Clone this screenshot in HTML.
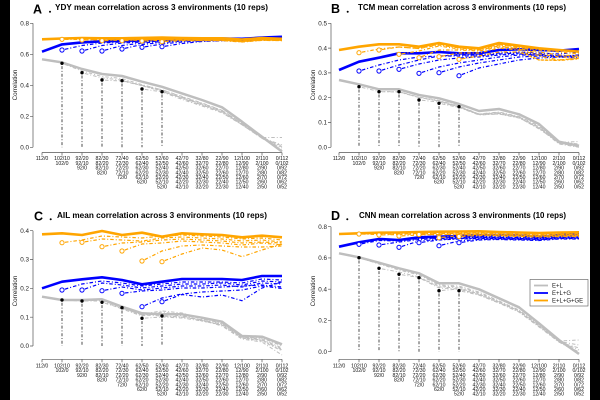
<!DOCTYPE html>
<html><head><meta charset="utf-8"><style>
html,body{margin:0;padding:0;background:#fff;}
svg{display:block;}
.gm{stroke:#bebebe;stroke-width:2.5;fill:none;stroke-linejoin:round}
.gd{stroke:#bebebe;stroke-width:1;fill:none;stroke-dasharray:1 2 3.5 2}
.bm{stroke:#0000ff;stroke-width:2.6;fill:none;stroke-linejoin:round}
.bd{stroke:#0000ff;stroke-width:1.2;fill:none;stroke-dasharray:1 2 3.5 2}
.om{stroke:#ffa500;stroke-width:2.6;fill:none;stroke-linejoin:round}
.od{stroke:#ffa500;stroke-width:1.2;fill:none;stroke-dasharray:1 2 3.5 2}
.vl{stroke:#222;stroke-width:0.8;fill:none;stroke-dasharray:1 1.8 3 1.8}
.bc{fill:#fff;stroke:#0000ff;stroke-width:1}
.oc{fill:#fff;stroke:#ffa500;stroke-width:1}
.ax{stroke:#555;stroke-width:0.7;fill:none}
.yl{font-family:"Liberation Sans",sans-serif;font-size:6.3px;fill:#222;text-anchor:end}
.xl{font-family:"Liberation Sans",sans-serif;font-size:10.4px;fill:#111;text-anchor:middle}
.cl{font-family:"Liberation Sans",sans-serif;font-size:6.3px;fill:#222;text-anchor:middle}
.tt{font-family:"Liberation Sans",sans-serif;font-size:8.2px;font-weight:bold;fill:#000}
.pl{font-family:"Liberation Sans",sans-serif;font-size:12.5px;font-weight:bold;fill:#000}
.lg{font-family:"Liberation Sans",sans-serif;font-size:6px;fill:#222}
</style></head><body>
<svg width="600" height="400" viewBox="0 0 600 400" xmlns="http://www.w3.org/2000/svg">
<rect x="0" y="0" width="600" height="400" fill="#fff"/>

<!-- ================= PANEL A ================= -->
<text class="pl" x="33" y="13.3">A</text><circle cx="50" cy="11.7" r="1" fill="#000"/>
<text class="tt" x="55" y="10.2" textLength="213" lengthAdjust="spacingAndGlyphs">YDY mean correlation across 3 environments (10 reps)</text>
<text class="cl" transform="translate(17.2,85) rotate(-90)">Correlation</text>
<path class="ax" d="M33,23.3V147.3M30,147.3H33M30,116.3H33M30,85.3H33M30,54.3H33M30,23.3H33"/>
<text class="yl" x="29" y="149.5">0.0</text><text class="yl" x="29" y="118.5">0.2</text><text class="yl" x="29" y="87.5">0.4</text><text class="yl" x="29" y="56.5">0.6</text><text class="yl" x="29" y="25.5">0.8</text>
<path class="ax" d="M42,152.5H282M42,152.5v3M62,152.5v3M82,152.5v3M102,152.5v3M122,152.5v3M142,152.5v3M162,152.5v3M182,152.5v3M202,152.5v3M222,152.5v3M242,152.5v3M262,152.5v3M282,152.5v3"/>
<g transform="translate(42,160.2) scale(.5)"><text class="xl"><tspan x="0" y="0">112/0</tspan></text></g>
<g transform="translate(62,160.2) scale(.5)"><text class="xl"><tspan x="0" y="0">102/10</tspan><tspan x="0" y="9.4">102/0</tspan></text></g>
<g transform="translate(82,160.2) scale(.5)"><text class="xl"><tspan x="0" y="0">92/20</tspan><tspan x="0" y="9.4">92/10</tspan><tspan x="0" y="18.8">92/0</tspan></text></g>
<g transform="translate(102,160.2) scale(.5)"><text class="xl"><tspan x="0" y="0">82/30</tspan><tspan x="0" y="9.4">82/20</tspan><tspan x="0" y="18.8">82/10</tspan><tspan x="0" y="28.2">82/0</tspan></text></g>
<g transform="translate(122,160.2) scale(.5)"><text class="xl"><tspan x="0" y="0">72/40</tspan><tspan x="0" y="9.4">72/30</tspan><tspan x="0" y="18.8">72/20</tspan><tspan x="0" y="28.2">72/10</tspan><tspan x="0" y="37.6">72/0</tspan></text></g>
<g transform="translate(142,160.2) scale(.5)"><text class="xl"><tspan x="0" y="0">62/50</tspan><tspan x="0" y="9.4">62/40</tspan><tspan x="0" y="18.8">62/30</tspan><tspan x="0" y="28.2">62/20</tspan><tspan x="0" y="37.6">62/10</tspan><tspan x="0" y="47">62/0</tspan></text></g>
<g transform="translate(162,160.2) scale(.5)"><text class="xl"><tspan x="0" y="0">52/60</tspan><tspan x="0" y="9.4">52/50</tspan><tspan x="0" y="18.8">52/40</tspan><tspan x="0" y="28.2">52/30</tspan><tspan x="0" y="37.6">52/20</tspan><tspan x="0" y="47">52/10</tspan><tspan x="0" y="56.4">52/0</tspan></text></g>
<g transform="translate(182,160.2) scale(.5)"><text class="xl"><tspan x="0" y="0">42/70</tspan><tspan x="0" y="9.4">42/60</tspan><tspan x="0" y="18.8">42/50</tspan><tspan x="0" y="28.2">42/40</tspan><tspan x="0" y="37.6">42/30</tspan><tspan x="0" y="47">42/20</tspan><tspan x="0" y="56.4">42/10</tspan></text></g>
<g transform="translate(202,160.2) scale(.5)"><text class="xl"><tspan x="0" y="0">32/80</tspan><tspan x="0" y="9.4">32/70</tspan><tspan x="0" y="18.8">32/60</tspan><tspan x="0" y="28.2">32/50</tspan><tspan x="0" y="37.6">32/40</tspan><tspan x="0" y="47">32/30</tspan><tspan x="0" y="56.4">32/20</tspan></text></g>
<g transform="translate(222,160.2) scale(.5)"><text class="xl"><tspan x="0" y="0">22/90</tspan><tspan x="0" y="9.4">22/80</tspan><tspan x="0" y="18.8">22/70</tspan><tspan x="0" y="28.2">22/60</tspan><tspan x="0" y="37.6">22/50</tspan><tspan x="0" y="47">22/40</tspan><tspan x="0" y="56.4">22/30</tspan></text></g>
<g transform="translate(242,160.2) scale(.5)"><text class="xl"><tspan x="0" y="0">12/100</tspan><tspan x="0" y="9.4">12/90</tspan><tspan x="0" y="18.8">12/80</tspan><tspan x="0" y="28.2">12/70</tspan><tspan x="0" y="37.6">12/60</tspan><tspan x="0" y="47">12/50</tspan><tspan x="0" y="56.4">12/40</tspan></text></g>
<g transform="translate(262,160.2) scale(.5)"><text class="xl"><tspan x="0" y="0">2/110</tspan><tspan x="0" y="9.4">2/100</tspan><tspan x="0" y="18.8">2/90</tspan><tspan x="0" y="28.2">2/80</tspan><tspan x="0" y="37.6">2/70</tspan><tspan x="0" y="47">2/60</tspan><tspan x="0" y="56.4">2/50</tspan></text></g>
<g transform="translate(282,160.2) scale(.5)"><text class="xl"><tspan x="0" y="0">0/112</tspan><tspan x="0" y="9.4">0/102</tspan><tspan x="0" y="18.8">0/92</tspan><tspan x="0" y="28.2">0/82</tspan><tspan x="0" y="37.6">0/72</tspan><tspan x="0" y="47">0/62</tspan><tspan x="0" y="56.4">0/52</tspan></text></g>

<path class="vl" d="M62,63.3V147.3M82,72.7V147.3M102,80V147.3M122,80.7V147.3M142,89V147.3M162,91.7V147.3"/>
<polyline class="gd" points="62,63.3 82,71 102,76.5 122,78.5 142,84.7 162,89.8 182,96.4 202,103 222,110.3 242,123.7 262,137.8 282,146"/>
<polyline class="gd" points="82,72.7 102,78 122,80 142,85.7 162,91.3 182,97.9 202,104 222,111.3 242,124.7 262,138.3 282,148"/>
<polyline class="gd" points="102,80 122,81 142,85.7 162,90.8 182,98.4 202,105 222,112.3 242,124.7 262,137.5 282,137.5"/>
<polyline class="gd" points="122,80.7 142,85.2 162,89.8 182,96.9 202,103.5 222,110.3 242,123.7 262,137.8 282,145"/>
<polyline class="gd" points="142,89 162,91.8 182,99.4 202,106 222,112.8 242,124.7 262,138.3 282,150"/>
<polyline class="gd" points="162,91.7 182,97.4 202,105 222,111.3 242,124.2 262,137.3 282,147"/>
<polyline class="gm" points="42,59.3 62,62.4 82,69 102,74 122,76 142,81.7 162,86.8 182,93.4 202,100 222,107.3 242,121.7 262,136.8 282,151.6"/>
<g fill="#000"><circle cx="62" cy="63.3" r="1.7"/><circle cx="82" cy="72.7" r="1.7"/><circle cx="102" cy="80" r="1.7"/><circle cx="122" cy="80.7" r="1.7"/><circle cx="142" cy="89" r="1.7"/><circle cx="162" cy="91.7" r="1.7"/></g>

<polyline class="bd" points="62,50 82,45.5 102,43 122,42 142,41.3 162,40.5 182,39.8 202,39.5 222,39.3 242,39.8 262,38.8 282,37.8"/>
<polyline class="bd" points="82,51 102,45.5 122,43 142,42 162,41 182,40.3 202,40 222,39.8 242,40.3 262,39.3 282,38.3"/>
<polyline class="bd" points="102,51 122,45.5 142,43 162,41.5 182,40.5 202,40.3 222,40 242,40.5 262,39.5 282,38.5"/>
<polyline class="bd" points="122,49 142,44.5 162,42.5 182,41 202,40.5 222,40.2 242,40.8 262,39.8 282,38.8"/>
<polyline class="bd" points="142,47.3 162,44 182,42 202,41 222,40.5 242,41 262,40 282,39"/>
<polyline class="bd" points="162,46.7 182,43.5 202,41.5 222,40.8 242,41.2 262,40.2 282,39.3"/>
<polyline class="bm" points="42,51.7 62,44.4 82,42.4 102,41.3 122,40.8 142,40.35 162,39.6 182,38.8 202,38.6 222,38.5 242,38.8 262,37.6 282,36.8"/>
<polyline class="od" points="62,39.3 82,39.5 102,39.6 122,39.5 142,39.2 162,39 182,39.4 202,39.6 222,39.6 242,41 262,39.3 282,39.8"/>
<polyline class="od" points="82,40 102,39.8 122,39.8 142,39.5 162,39.3 182,39.6 202,39.8 222,39.8 242,41.3 262,39.6 282,40"/>
<polyline class="od" points="102,40.7 122,40 142,39.7 162,39.5 182,39.9 202,40 222,40 242,41.5 262,39.8 282,40.2"/>
<polyline class="od" points="122,40.7 142,40 162,39.7 182,40 202,40.2 222,40.2 242,41.6 262,40 282,40.3"/>
<polyline class="od" points="142,41 162,40.2 182,40.2 202,40.4 222,40.4 242,41.8 262,40.2 282,40.5"/>
<polyline class="od" points="162,41.7 182,40.6 202,40.6 222,40.6 242,42 262,40.4 282,40.6"/>
<polyline class="om" points="42,39.3 62,38.5 82,38 102,38.3 122,38.3 142,37.9 162,37.6 182,38 202,38.3 222,38.3 242,39.6 262,38 282,38.8"/>
<circle class="bc" cx="62" cy="50" r="2.1"/><circle class="bc" cx="82" cy="51" r="2.1"/><circle class="bc" cx="102" cy="51" r="2.1"/><circle class="bc" cx="122" cy="49" r="2.1"/><circle class="bc" cx="142" cy="47.3" r="2.1"/><circle class="bc" cx="162" cy="46.7" r="2.1"/>
<circle class="oc" cx="62" cy="39.3" r="2.1"/><circle class="oc" cx="82" cy="40" r="2.1"/><circle class="oc" cx="102" cy="40.7" r="2.1"/><circle class="oc" cx="122" cy="40.7" r="2.1"/><circle class="oc" cx="142" cy="41" r="2.1"/><circle class="oc" cx="162" cy="41.7" r="2.1"/>

<!-- ================= PANEL B ================= -->
<text class="pl" x="331" y="13">B</text><circle cx="347.7" cy="11.7" r="1" fill="#000"/>
<text class="tt" x="358" y="10.2" textLength="208" lengthAdjust="spacingAndGlyphs">TCM mean correlation across 3 environments (10 reps)</text>
<text class="cl" transform="translate(315,85) rotate(-90)">Correlation</text>
<path class="ax" d="M331,23.3V147.3M328,147.3H331M328,122.5H331M328,97.7H331M328,72.9H331M328,48.1H331M328,23.3H331"/>
<text class="yl" x="327" y="149.5">0.0</text><text class="yl" x="327" y="124.7">0.1</text><text class="yl" x="327" y="99.9">0.2</text><text class="yl" x="327" y="75.1">0.3</text><text class="yl" x="327" y="50.3">0.4</text><text class="yl" x="327" y="25.5">0.5</text>
<path class="ax" d="M339,152.5H579M339,152.5v3M359,152.5v3M379,152.5v3M399,152.5v3M419,152.5v3M439,152.5v3M459,152.5v3M479,152.5v3M499,152.5v3M519,152.5v3M539,152.5v3M559,152.5v3M579,152.5v3"/>
<g transform="translate(339,160.2) scale(.5)"><text class="xl"><tspan x="0" y="0">112/0</tspan></text></g>
<g transform="translate(359,160.2) scale(.5)"><text class="xl"><tspan x="0" y="0">102/10</tspan><tspan x="0" y="9.4">102/0</tspan></text></g>
<g transform="translate(379,160.2) scale(.5)"><text class="xl"><tspan x="0" y="0">92/20</tspan><tspan x="0" y="9.4">92/10</tspan><tspan x="0" y="18.8">92/0</tspan></text></g>
<g transform="translate(399,160.2) scale(.5)"><text class="xl"><tspan x="0" y="0">82/30</tspan><tspan x="0" y="9.4">82/20</tspan><tspan x="0" y="18.8">82/10</tspan><tspan x="0" y="28.2">82/0</tspan></text></g>
<g transform="translate(419,160.2) scale(.5)"><text class="xl"><tspan x="0" y="0">72/40</tspan><tspan x="0" y="9.4">72/30</tspan><tspan x="0" y="18.8">72/20</tspan><tspan x="0" y="28.2">72/10</tspan><tspan x="0" y="37.6">72/0</tspan></text></g>
<g transform="translate(439,160.2) scale(.5)"><text class="xl"><tspan x="0" y="0">62/50</tspan><tspan x="0" y="9.4">62/40</tspan><tspan x="0" y="18.8">62/30</tspan><tspan x="0" y="28.2">62/20</tspan><tspan x="0" y="37.6">62/10</tspan><tspan x="0" y="47">62/0</tspan></text></g>
<g transform="translate(459,160.2) scale(.5)"><text class="xl"><tspan x="0" y="0">52/60</tspan><tspan x="0" y="9.4">52/50</tspan><tspan x="0" y="18.8">52/40</tspan><tspan x="0" y="28.2">52/30</tspan><tspan x="0" y="37.6">52/20</tspan><tspan x="0" y="47">52/10</tspan><tspan x="0" y="56.4">52/0</tspan></text></g>
<g transform="translate(479,160.2) scale(.5)"><text class="xl"><tspan x="0" y="0">42/70</tspan><tspan x="0" y="9.4">42/60</tspan><tspan x="0" y="18.8">42/50</tspan><tspan x="0" y="28.2">42/40</tspan><tspan x="0" y="37.6">42/30</tspan><tspan x="0" y="47">42/20</tspan><tspan x="0" y="56.4">42/10</tspan></text></g>
<g transform="translate(499,160.2) scale(.5)"><text class="xl"><tspan x="0" y="0">32/80</tspan><tspan x="0" y="9.4">32/70</tspan><tspan x="0" y="18.8">32/60</tspan><tspan x="0" y="28.2">32/50</tspan><tspan x="0" y="37.6">32/40</tspan><tspan x="0" y="47">32/30</tspan><tspan x="0" y="56.4">32/20</tspan></text></g>
<g transform="translate(519,160.2) scale(.5)"><text class="xl"><tspan x="0" y="0">22/90</tspan><tspan x="0" y="9.4">22/80</tspan><tspan x="0" y="18.8">22/70</tspan><tspan x="0" y="28.2">22/60</tspan><tspan x="0" y="37.6">22/50</tspan><tspan x="0" y="47">22/40</tspan><tspan x="0" y="56.4">22/30</tspan></text></g>
<g transform="translate(539,160.2) scale(.5)"><text class="xl"><tspan x="0" y="0">12/100</tspan><tspan x="0" y="9.4">12/90</tspan><tspan x="0" y="18.8">12/80</tspan><tspan x="0" y="28.2">12/70</tspan><tspan x="0" y="37.6">12/60</tspan><tspan x="0" y="47">12/50</tspan><tspan x="0" y="56.4">12/40</tspan></text></g>
<g transform="translate(559,160.2) scale(.5)"><text class="xl"><tspan x="0" y="0">2/110</tspan><tspan x="0" y="9.4">2/100</tspan><tspan x="0" y="18.8">2/90</tspan><tspan x="0" y="28.2">2/80</tspan><tspan x="0" y="37.6">2/70</tspan><tspan x="0" y="47">2/60</tspan><tspan x="0" y="56.4">2/50</tspan></text></g>
<g transform="translate(579,160.2) scale(.5)"><text class="xl"><tspan x="0" y="0">0/112</tspan><tspan x="0" y="9.4">0/102</tspan><tspan x="0" y="18.8">0/92</tspan><tspan x="0" y="28.2">0/82</tspan><tspan x="0" y="37.6">0/72</tspan><tspan x="0" y="47">0/62</tspan><tspan x="0" y="56.4">0/52</tspan></text></g>

<path class="vl" d="M359,86.7V147.3M379,91.7V147.3M399,91.7V147.3M419,100V147.3M439,103.3V147.3M459,106.7V147.3"/>
<polyline class="gd" points="359,86.7 379,91.5 399,91.8 419,97 439,100.5 459,106 479,114 499,112.5 519,117 539,127 559,142.5 579,141.5"/>
<polyline class="gd" points="379,91.7 399,92 419,97.5 439,101 459,107 479,114.5 499,113 519,117.5 539,128 559,143 579,147"/>
<polyline class="gd" points="399,91.7 419,97.5 439,101 459,106.5 479,114 499,112 519,116.5 539,126 559,143.5 579,146"/>
<polyline class="gd" points="419,100 439,102 459,107 479,114.5 499,113.5 519,117.5 539,129 559,142 579,144"/>
<polyline class="gd" points="439,103.3 459,107.5 479,115 499,114 519,118 539,128 559,144 579,147.3"/>
<polyline class="gd" points="459,106.7 479,114.5 499,114 519,117 539,127.5 559,143 579,146"/>
<polyline class="gm" points="339,80 359,84.3 379,89.3 399,89.3 419,95 439,98.3 459,104 479,111 499,109 519,114.3 539,124 559,141.7 579,145.7"/>
<g fill="#000"><circle cx="359" cy="86.7" r="1.7"/><circle cx="379" cy="91.7" r="1.7"/><circle cx="399" cy="91.7" r="1.7"/><circle cx="419" cy="100" r="1.7"/><circle cx="439" cy="103.3" r="1.7"/><circle cx="459" cy="106.7" r="1.7"/></g>

<polyline class="bd" points="359,71 379,65 399,60 419,57 439,56 459,55 479,55 499,53 519,52 539,53 559,54 579,52"/>
<polyline class="bd" points="379,71 399,65 419,60 439,56 459,56 479,56 499,54 519,53 539,54 559,56 579,55"/>
<polyline class="bd" points="399,69.3 419,64 439,60 459,58 479,57 499,55 519,54 539,55 559,57 579,58"/>
<polyline class="bd" points="419,73.3 439,67 459,63 479,60 499,57 519,55 539,55 559,56 579,56"/>
<polyline class="bd" points="439,72.7 459,67 479,63 499,60 519,57 539,56 559,57 579,55"/>
<polyline class="bd" points="459,75.7 479,68 499,64 519,60 539,58 559,57 579,56"/>
<polyline class="bm" points="339,70 359,61.7 379,57.7 399,53.3 419,53.3 439,52 459,53.3 479,53.3 499,50 519,49.3 539,50 559,50.7 579,49"/>
<polyline class="od" points="359,52.7 379,49 399,47 419,48.5 439,45 459,48 479,49.5 499,45 519,47 539,50 559,52 579,54"/>
<polyline class="od" points="379,50 399,47 419,48.5 439,44 459,47.5 479,49 499,44.5 519,47 539,52 559,55 579,56"/>
<polyline class="od" points="399,54.3 419,51 439,46 459,49 479,50 499,46 519,49 539,56 559,60 579,58"/>
<polyline class="od" points="419,57.7 439,50 459,50 479,51 499,47 519,48 539,54 559,57 579,57"/>
<polyline class="od" points="439,56.7 459,53 479,53 499,48 519,50 539,60 559,60 579,58.5"/>
<polyline class="od" points="459,59.3 479,56 499,52 519,52 539,60 559,60.5 579,59"/>
<polyline class="om" points="339,50 359,46.7 379,44.3 399,44.3 419,46.7 439,43 459,46.7 479,48.3 499,43 519,45.7 539,48.3 559,50 579,51.7"/>
<circle class="bc" cx="359" cy="71" r="2.1"/><circle class="bc" cx="379" cy="71" r="2.1"/><circle class="bc" cx="399" cy="69.3" r="2.1"/><circle class="bc" cx="419" cy="73.3" r="2.1"/><circle class="bc" cx="439" cy="72.7" r="2.1"/><circle class="bc" cx="459" cy="75.7" r="2.1"/>
<circle class="oc" cx="359" cy="52.7" r="2.1"/><circle class="oc" cx="379" cy="50" r="2.1"/><circle class="oc" cx="399" cy="54.3" r="2.1"/><circle class="oc" cx="419" cy="57.7" r="2.1"/><circle class="oc" cx="439" cy="56.7" r="2.1"/><circle class="oc" cx="459" cy="59.3" r="2.1"/>

<!-- ================= PANEL C ================= -->
<text class="pl" x="34" y="220.7">C</text><circle cx="50.7" cy="219.3" r="1" fill="#000"/>
<text class="tt" x="57" y="218" textLength="210" lengthAdjust="spacingAndGlyphs">AIL mean correlation across 3 environments (10 reps)</text>
<text class="cl" transform="translate(17.2,291) rotate(-90)">Correlation</text>
<path class="ax" d="M33,230.7V346M30,346H33M30,317.2H33M30,288.3H33M30,259.5H33M30,230.7H33"/>
<text class="yl" x="29" y="348.2">0.0</text><text class="yl" x="29" y="319.4">0.1</text><text class="yl" x="29" y="290.5">0.2</text><text class="yl" x="29" y="261.7">0.3</text><text class="yl" x="29" y="232.9">0.4</text>
<path class="ax" d="M42,359.3H282M42,359.3v3M62,359.3v3M82,359.3v3M102,359.3v3M122,359.3v3M142,359.3v3M162,359.3v3M182,359.3v3M202,359.3v3M222,359.3v3M242,359.3v3M262,359.3v3M282,359.3v3"/>
<g transform="translate(42,367.5) scale(.5)"><text class="xl"><tspan x="0" y="0">112/0</tspan></text></g>
<g transform="translate(62,367.5) scale(.5)"><text class="xl"><tspan x="0" y="0">102/10</tspan><tspan x="0" y="9.4">102/0</tspan></text></g>
<g transform="translate(82,367.5) scale(.5)"><text class="xl"><tspan x="0" y="0">92/20</tspan><tspan x="0" y="9.4">92/10</tspan><tspan x="0" y="18.8">92/0</tspan></text></g>
<g transform="translate(102,367.5) scale(.5)"><text class="xl"><tspan x="0" y="0">82/30</tspan><tspan x="0" y="9.4">82/20</tspan><tspan x="0" y="18.8">82/10</tspan><tspan x="0" y="28.2">82/0</tspan></text></g>
<g transform="translate(122,367.5) scale(.5)"><text class="xl"><tspan x="0" y="0">72/40</tspan><tspan x="0" y="9.4">72/30</tspan><tspan x="0" y="18.8">72/20</tspan><tspan x="0" y="28.2">72/10</tspan><tspan x="0" y="37.6">72/0</tspan></text></g>
<g transform="translate(142,367.5) scale(.5)"><text class="xl"><tspan x="0" y="0">62/50</tspan><tspan x="0" y="9.4">62/40</tspan><tspan x="0" y="18.8">62/30</tspan><tspan x="0" y="28.2">62/20</tspan><tspan x="0" y="37.6">62/10</tspan><tspan x="0" y="47">62/0</tspan></text></g>
<g transform="translate(162,367.5) scale(.5)"><text class="xl"><tspan x="0" y="0">52/60</tspan><tspan x="0" y="9.4">52/50</tspan><tspan x="0" y="18.8">52/40</tspan><tspan x="0" y="28.2">52/30</tspan><tspan x="0" y="37.6">52/20</tspan><tspan x="0" y="47">52/10</tspan><tspan x="0" y="56.4">52/0</tspan></text></g>
<g transform="translate(182,367.5) scale(.5)"><text class="xl"><tspan x="0" y="0">42/70</tspan><tspan x="0" y="9.4">42/60</tspan><tspan x="0" y="18.8">42/50</tspan><tspan x="0" y="28.2">42/40</tspan><tspan x="0" y="37.6">42/30</tspan><tspan x="0" y="47">42/20</tspan><tspan x="0" y="56.4">42/10</tspan></text></g>
<g transform="translate(202,367.5) scale(.5)"><text class="xl"><tspan x="0" y="0">32/80</tspan><tspan x="0" y="9.4">32/70</tspan><tspan x="0" y="18.8">32/60</tspan><tspan x="0" y="28.2">32/50</tspan><tspan x="0" y="37.6">32/40</tspan><tspan x="0" y="47">32/30</tspan><tspan x="0" y="56.4">32/20</tspan></text></g>
<g transform="translate(222,367.5) scale(.5)"><text class="xl"><tspan x="0" y="0">22/90</tspan><tspan x="0" y="9.4">22/80</tspan><tspan x="0" y="18.8">22/70</tspan><tspan x="0" y="28.2">22/60</tspan><tspan x="0" y="37.6">22/50</tspan><tspan x="0" y="47">22/40</tspan><tspan x="0" y="56.4">22/30</tspan></text></g>
<g transform="translate(242,367.5) scale(.5)"><text class="xl"><tspan x="0" y="0">12/100</tspan><tspan x="0" y="9.4">12/90</tspan><tspan x="0" y="18.8">12/80</tspan><tspan x="0" y="28.2">12/70</tspan><tspan x="0" y="37.6">12/60</tspan><tspan x="0" y="47">12/50</tspan><tspan x="0" y="56.4">12/40</tspan></text></g>
<g transform="translate(262,367.5) scale(.5)"><text class="xl"><tspan x="0" y="0">2/110</tspan><tspan x="0" y="9.4">2/100</tspan><tspan x="0" y="18.8">2/90</tspan><tspan x="0" y="28.2">2/80</tspan><tspan x="0" y="37.6">2/70</tspan><tspan x="0" y="47">2/60</tspan><tspan x="0" y="56.4">2/50</tspan></text></g>
<g transform="translate(282,367.5) scale(.5)"><text class="xl"><tspan x="0" y="0">0/112</tspan><tspan x="0" y="9.4">0/102</tspan><tspan x="0" y="18.8">0/92</tspan><tspan x="0" y="28.2">0/82</tspan><tspan x="0" y="37.6">0/72</tspan><tspan x="0" y="47">0/62</tspan><tspan x="0" y="56.4">0/52</tspan></text></g>

<path class="vl" d="M62,300V346M82,301V346M102,302.3V346M122,307.7V346M142,318.3V346M162,316V346"/>
<polyline class="gd" points="62,300 82,301 102,300 122,308 142,315 162,316 182,317 202,320 222,324 242,337 262,339 282,348"/>
<polyline class="gd" points="82,301 102,301 122,309 142,316 162,312 182,315 202,321 222,325 242,338 262,340 282,350"/>
<polyline class="gd" points="102,302.3 122,308.5 142,314 162,311 182,313 202,319 222,323 242,337 262,338 282,346"/>
<polyline class="gd" points="122,307.7 142,315 162,314 182,316 202,320 222,326 242,339 262,342 282,355"/>
<polyline class="gd" points="142,318.3 162,317 182,318 202,321 222,325 242,338 262,341 282,351"/>
<polyline class="gd" points="162,316 182,317 202,320 222,324 242,337 262,340 282,349"/>
<polyline class="gm" points="42,296.7 62,300 82,300 102,299.3 122,306.7 142,313.3 162,314.3 182,314.3 202,317.7 222,321.7 242,336 262,336.7 282,344.3"/>
<g fill="#000"><circle cx="62" cy="300" r="1.7"/><circle cx="82" cy="301" r="1.7"/><circle cx="102" cy="302.3" r="1.7"/><circle cx="122" cy="307.7" r="1.7"/><circle cx="142" cy="318.3" r="1.7"/><circle cx="162" cy="316" r="1.7"/></g>

<polyline class="bd" points="62,290 82,284 102,281 122,283 142,286 162,284 182,282 202,282 222,282 242,283 262,279 282,280"/>
<polyline class="bd" points="82,290 102,283 122,285 142,288 162,286 182,284 202,284 222,283 242,285 262,281 282,282"/>
<polyline class="bd" points="102,290.7 122,287 142,290 162,288 182,286 202,286 222,285 242,287 262,283 282,284"/>
<polyline class="bd" points="122,293.3 142,291 162,290 182,288 202,288 222,287 242,286 262,285 282,287"/>
<polyline class="bd" points="142,306.7 162,298 182,294 202,292 222,291 242,290 262,286 282,288.5"/>
<polyline class="bd" points="162,301.7 182,294.5 202,297 222,295 242,300.7 262,288 282,282"/>
<polyline class="bm" points="42,288.3 62,281.7 82,279.3 102,277.3 122,280 142,284.3 162,281.7 182,279 202,279 222,279 242,280 262,276 282,276"/>
<polyline class="od" points="62,242.7 82,240 102,236 122,237 142,238 162,236 182,235 202,236 222,237 242,239 262,238 282,240"/>
<polyline class="od" points="82,242.3 102,239 122,240 142,241 162,238 182,237 202,238 222,239 242,241 262,240 282,242"/>
<polyline class="od" points="102,246.7 122,243 142,242 162,240 182,239 202,240 222,241 242,243 262,242 282,243"/>
<polyline class="od" points="122,251 142,244 162,243 182,241 202,242 222,243 242,245 262,243 282,245"/>
<polyline class="od" points="142,261 162,251 182,246 202,245 222,246 242,247 262,247 282,246"/>
<polyline class="od" points="162,261.7 182,254 202,248 222,250 242,256.7 262,250 282,244"/>
<polyline class="om" points="42,234.3 62,233.3 82,235 102,231 122,235 142,232.7 162,236.7 182,233.3 202,234.3 222,235 242,237.3 262,235.7 282,237.3"/>
<circle class="bc" cx="62" cy="290" r="2.1"/><circle class="bc" cx="82" cy="290" r="2.1"/><circle class="bc" cx="102" cy="290.7" r="2.1"/><circle class="bc" cx="122" cy="293.3" r="2.1"/><circle class="bc" cx="142" cy="306.7" r="2.1"/><circle class="bc" cx="162" cy="301.7" r="2.1"/>
<circle class="oc" cx="62" cy="242.7" r="2.1"/><circle class="oc" cx="82" cy="242.3" r="2.1"/><circle class="oc" cx="102" cy="246.7" r="2.1"/><circle class="oc" cx="122" cy="251" r="2.1"/><circle class="oc" cx="142" cy="261" r="2.1"/><circle class="oc" cx="162" cy="261.7" r="2.1"/>

<!-- ================= PANEL D ================= -->
<text class="pl" x="331" y="220">D</text><circle cx="347.3" cy="219.3" r="1" fill="#000"/>
<text class="tt" x="359" y="218" textLength="207" lengthAdjust="spacingAndGlyphs">CNN mean correlation across 3 environments (10 reps)</text>
<text class="cl" transform="translate(315,291) rotate(-90)">Correlation</text>
<path class="ax" d="M331,226.7V351.7M328,351.7H331M328,320.45H331M328,289.2H331M328,257.95H331M328,226.7H331"/>
<text class="yl" x="327" y="353.9">0.0</text><text class="yl" x="327" y="322.6">0.2</text><text class="yl" x="327" y="291.4">0.4</text><text class="yl" x="327" y="260.1">0.6</text><text class="yl" x="327" y="228.9">0.8</text>
<path class="ax" d="M339,359.3H579M339,359.3v3M359,359.3v3M379,359.3v3M399,359.3v3M419,359.3v3M439,359.3v3M459,359.3v3M479,359.3v3M499,359.3v3M519,359.3v3M539,359.3v3M559,359.3v3M579,359.3v3"/>
<g transform="translate(339,367.5) scale(.5)"><text class="xl"><tspan x="0" y="0">112/0</tspan></text></g>
<g transform="translate(359,367.5) scale(.5)"><text class="xl"><tspan x="0" y="0">102/10</tspan><tspan x="0" y="9.4">102/0</tspan></text></g>
<g transform="translate(379,367.5) scale(.5)"><text class="xl"><tspan x="0" y="0">92/20</tspan><tspan x="0" y="9.4">92/10</tspan><tspan x="0" y="18.8">92/0</tspan></text></g>
<g transform="translate(399,367.5) scale(.5)"><text class="xl"><tspan x="0" y="0">82/30</tspan><tspan x="0" y="9.4">82/20</tspan><tspan x="0" y="18.8">82/10</tspan><tspan x="0" y="28.2">82/0</tspan></text></g>
<g transform="translate(419,367.5) scale(.5)"><text class="xl"><tspan x="0" y="0">72/40</tspan><tspan x="0" y="9.4">72/30</tspan><tspan x="0" y="18.8">72/20</tspan><tspan x="0" y="28.2">72/10</tspan><tspan x="0" y="37.6">72/0</tspan></text></g>
<g transform="translate(439,367.5) scale(.5)"><text class="xl"><tspan x="0" y="0">62/50</tspan><tspan x="0" y="9.4">62/40</tspan><tspan x="0" y="18.8">62/30</tspan><tspan x="0" y="28.2">62/20</tspan><tspan x="0" y="37.6">62/10</tspan><tspan x="0" y="47">62/0</tspan></text></g>
<g transform="translate(459,367.5) scale(.5)"><text class="xl"><tspan x="0" y="0">52/60</tspan><tspan x="0" y="9.4">52/50</tspan><tspan x="0" y="18.8">52/40</tspan><tspan x="0" y="28.2">52/30</tspan><tspan x="0" y="37.6">52/20</tspan><tspan x="0" y="47">52/10</tspan><tspan x="0" y="56.4">52/0</tspan></text></g>
<g transform="translate(479,367.5) scale(.5)"><text class="xl"><tspan x="0" y="0">42/70</tspan><tspan x="0" y="9.4">42/60</tspan><tspan x="0" y="18.8">42/50</tspan><tspan x="0" y="28.2">42/40</tspan><tspan x="0" y="37.6">42/30</tspan><tspan x="0" y="47">42/20</tspan><tspan x="0" y="56.4">42/10</tspan></text></g>
<g transform="translate(499,367.5) scale(.5)"><text class="xl"><tspan x="0" y="0">32/80</tspan><tspan x="0" y="9.4">32/70</tspan><tspan x="0" y="18.8">32/60</tspan><tspan x="0" y="28.2">32/50</tspan><tspan x="0" y="37.6">32/40</tspan><tspan x="0" y="47">32/30</tspan><tspan x="0" y="56.4">32/20</tspan></text></g>
<g transform="translate(519,367.5) scale(.5)"><text class="xl"><tspan x="0" y="0">22/90</tspan><tspan x="0" y="9.4">22/80</tspan><tspan x="0" y="18.8">22/70</tspan><tspan x="0" y="28.2">22/60</tspan><tspan x="0" y="37.6">22/50</tspan><tspan x="0" y="47">22/40</tspan><tspan x="0" y="56.4">22/30</tspan></text></g>
<g transform="translate(539,367.5) scale(.5)"><text class="xl"><tspan x="0" y="0">12/100</tspan><tspan x="0" y="9.4">12/90</tspan><tspan x="0" y="18.8">12/80</tspan><tspan x="0" y="28.2">12/70</tspan><tspan x="0" y="37.6">12/60</tspan><tspan x="0" y="47">12/50</tspan><tspan x="0" y="56.4">12/40</tspan></text></g>
<g transform="translate(559,367.5) scale(.5)"><text class="xl"><tspan x="0" y="0">2/110</tspan><tspan x="0" y="9.4">2/100</tspan><tspan x="0" y="18.8">2/90</tspan><tspan x="0" y="28.2">2/80</tspan><tspan x="0" y="37.6">2/70</tspan><tspan x="0" y="47">2/60</tspan><tspan x="0" y="56.4">2/50</tspan></text></g>
<g transform="translate(579,367.5) scale(.5)"><text class="xl"><tspan x="0" y="0">0/112</tspan><tspan x="0" y="9.4">0/102</tspan><tspan x="0" y="18.8">0/92</tspan><tspan x="0" y="28.2">0/82</tspan><tspan x="0" y="37.6">0/72</tspan><tspan x="0" y="47">0/62</tspan><tspan x="0" y="56.4">0/52</tspan></text></g>

<path class="vl" d="M359,257.7V351.7M379,268.3V351.7M399,274.3V351.7M419,277.7V351.7M439,290.7V351.7M459,290.7V351.7"/>
<polyline class="gd" points="359,257.7 379,264 399,270 419,275 439,285 459,286 479,292 499,301 519,310 539,325 559,341 579,350"/>
<polyline class="gd" points="379,268.3 399,272 419,277 439,287 459,288 479,294 499,302 519,311 539,326 559,342 579,352"/>
<polyline class="gd" points="399,274.3 419,277.5 439,286 459,287 479,293 499,301.5 519,310.5 539,325.5 559,341 579,340"/>
<polyline class="gd" points="419,277.7 439,288 459,289 479,295 499,303 519,312 539,327 559,342 579,348"/>
<polyline class="gd" points="439,290.7 459,289 479,294.5 499,302.5 519,311 539,326 559,341.5 579,345"/>
<polyline class="gd" points="459,290.7 479,295 499,303 519,312 539,326 559,342 579,353"/>
<polyline class="gm" points="339,253.3 359,257.3 379,262.7 399,268.3 419,273.3 439,283.3 459,283.3 479,289.3 499,298.3 519,307.3 539,323.3 559,340 579,354"/>
<g fill="#000"><circle cx="359" cy="257.7" r="1.7"/><circle cx="379" cy="268.3" r="1.7"/><circle cx="399" cy="274.3" r="1.7"/><circle cx="419" cy="277.7" r="1.7"/><circle cx="439" cy="290.7" r="1.7"/><circle cx="459" cy="290.7" r="1.7"/></g>

<polyline class="bd" points="359,244.3 379,240.5 399,241 419,238.5 439,238 459,237.5 479,237 499,237 519,237.5 539,238 559,236 579,236"/>
<polyline class="bd" points="379,245 399,242 419,239.5 439,238.5 459,238 479,237.5 499,237.5 519,238 539,238.5 559,237 579,237"/>
<polyline class="bd" points="399,247.3 419,241 439,239.5 459,238.5 479,238 499,238 519,238.5 539,239 559,237.5 579,237.5"/>
<polyline class="bd" points="419,242.7 439,240 459,239 479,238.5 499,238.5 519,239 539,239.5 559,238 579,238"/>
<polyline class="bd" points="439,245.7 459,241 479,239.5 499,239 519,239.5 539,240 559,238.5 579,238.5"/>
<polyline class="bd" points="459,242.7 479,240 499,239.5 519,240 539,240.5 559,239 579,239"/>
<polyline class="bm" points="339,246.7 359,242.3 379,239 399,240 419,237.3 439,236.7 459,236 479,235.3 499,235 519,235.3 539,236.7 559,235 579,234.3"/>
<polyline class="od" points="359,234 379,234.5 399,234 419,233.5 439,233 459,233 479,233 499,233.5 519,234 539,234.5 559,234 579,234"/>
<polyline class="od" points="379,235 399,234.5 419,234 439,233.5 459,233.5 479,233.5 499,234 519,234.5 539,235 559,234.5 579,234.5"/>
<polyline class="od" points="399,236 419,235 439,234.5 459,234 479,234 499,234.5 519,235 539,235.5 559,235 579,235"/>
<polyline class="od" points="419,234.5 439,234.5 459,234.5 479,234.5 499,235 519,235.5 539,236 559,235.5 579,235.5"/>
<polyline class="od" points="439,237.7 459,235.5 479,235 499,235.5 519,236 539,236.5 559,236 579,236"/>
<polyline class="od" points="459,236.5 479,235.5 499,236 519,236.5 539,237 559,236.5 579,236.5"/>
<polyline class="om" points="339,234 359,233.3 379,232.7 399,232.5 419,232 439,231.7 459,231.5 479,231.3 499,232 519,232.5 539,233 559,232.5 579,232.3"/>
<circle class="bc" cx="359" cy="244.3" r="2.1"/><circle class="bc" cx="379" cy="245" r="2.1"/><circle class="bc" cx="399" cy="247.3" r="2.1"/><circle class="bc" cx="419" cy="242.7" r="2.1"/><circle class="bc" cx="439" cy="245.7" r="2.1"/><circle class="bc" cx="459" cy="242.7" r="2.1"/>
<circle class="oc" cx="359" cy="234" r="2.1"/><circle class="oc" cx="379" cy="235" r="2.1"/><circle class="oc" cx="399" cy="236" r="2.1"/><circle class="oc" cx="419" cy="234.5" r="2.1"/><circle class="oc" cx="439" cy="237.7" r="2.1"/><circle class="oc" cx="459" cy="236.5" r="2.1"/>

<!-- legend -->
<rect x="530" y="279.5" width="58" height="26.5" fill="#fff" stroke="#555" stroke-width="0.6"/>
<line x1="534" y1="285.5" x2="548" y2="285.5" stroke="#bebebe" stroke-width="1.8"/>
<line x1="534" y1="293" x2="548" y2="293" stroke="#0000ff" stroke-width="1.8"/>
<line x1="534" y1="300.5" x2="548" y2="300.5" stroke="#ffa500" stroke-width="1.8"/>
<text class="lg" x="552" y="287.6">E+L</text>
<text class="lg" x="552" y="295.1">E+L+G</text>
<text class="lg" x="552" y="302.6">E+L+G+GE</text>

<!-- black side bars -->
<rect x="0" y="0" width="10" height="400" fill="#000"/>
<rect x="590" y="0" width="10" height="400" fill="#000"/>
</svg>
</body></html>
